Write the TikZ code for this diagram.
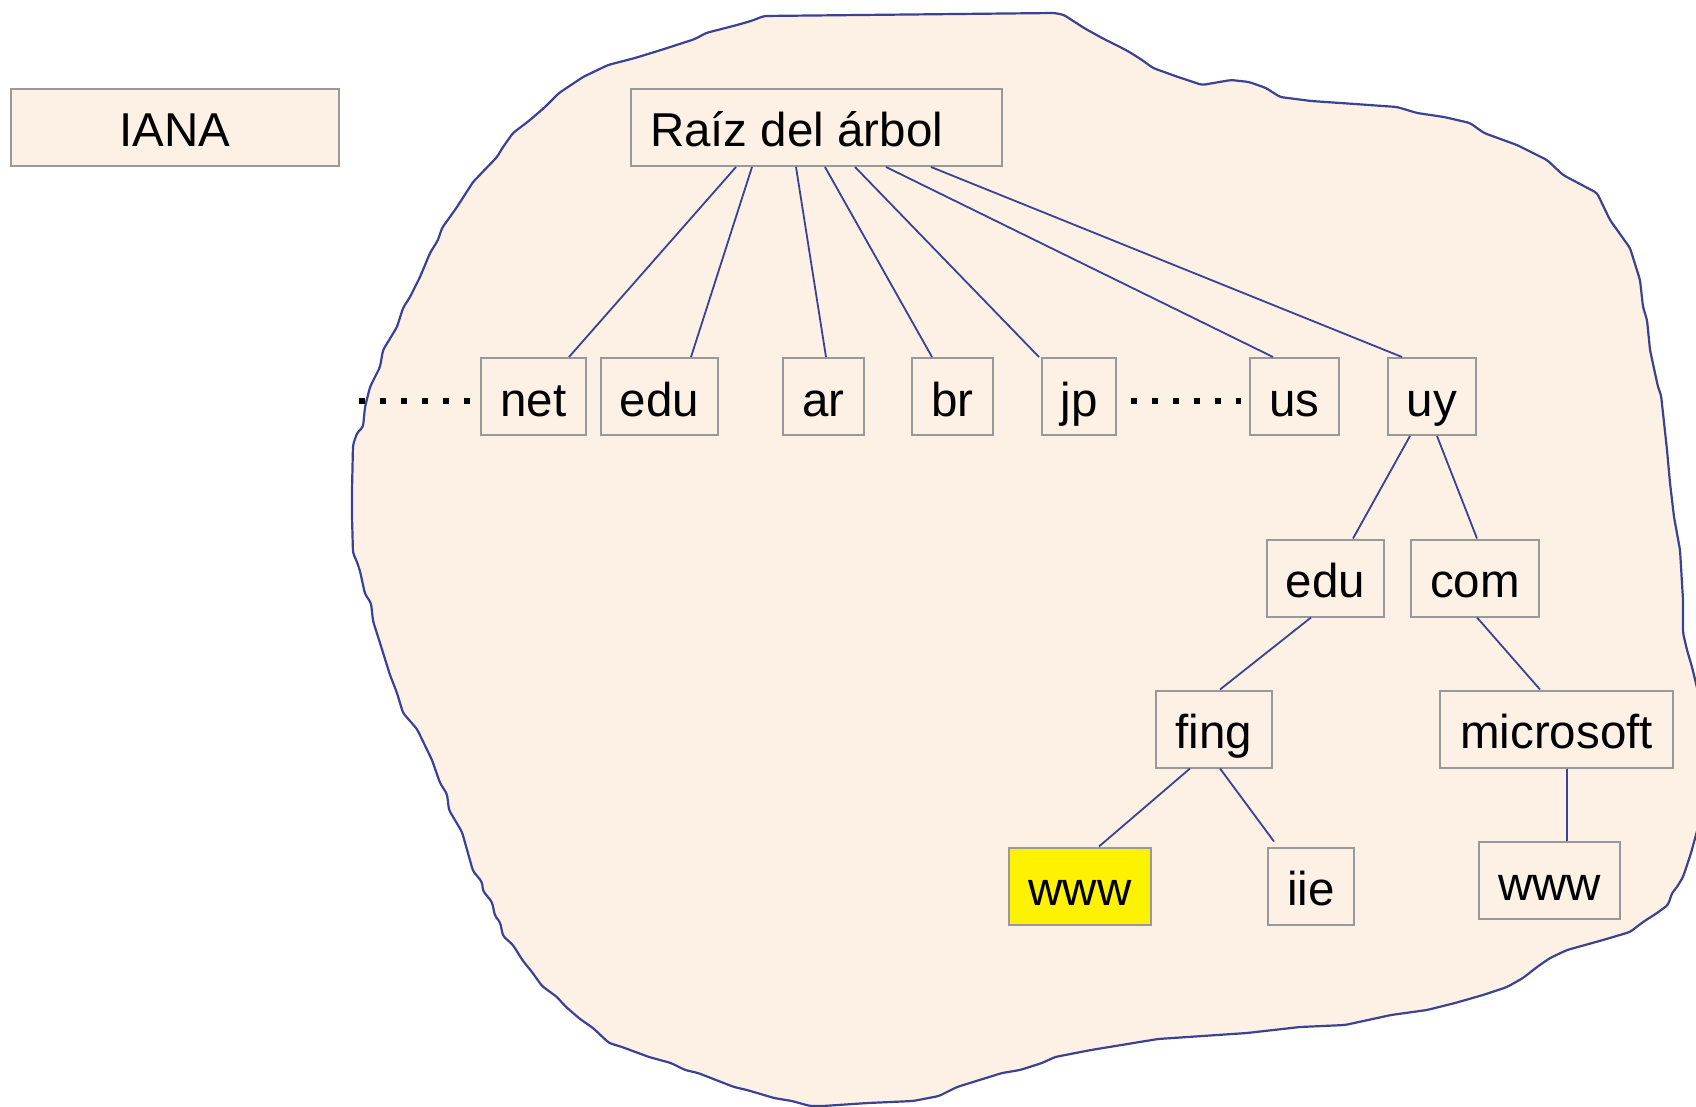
\documentclass[tikz,border=0pt]{standalone}
\usepackage{fontspec}
\setmainfont{Liberation Sans}
\definecolor{peach}{RGB}{253,240,228}
\definecolor{inkblue}{RGB}{58,66,148}
\definecolor{boxgray}{RGB}{153,153,153}
\begin{document}
\begin{tikzpicture}[x=1pt,y=-1pt,
  dnsbox/.style={draw=boxgray, line width=2pt, fill=peach, rectangle,
    inner xsep=0pt, inner ysep=0pt, minimum height=77pt,
    text height=39pt, text depth=0pt,
    font=\fontsize{47.5pt}{56pt}\selectfont},
  hilite/.style={dnsbox, fill=yellow},
  link/.style={draw=inkblue, line width=1.8pt},
  dotrow/.style={line width=6pt, dash pattern=on 6pt off 15pt},
  region/.style={draw=inkblue, line width=2.2pt, fill=peach,
    line join=round, rounded corners=3pt}]
\useasboundingbox (0,0) rectangle (1696,1107);

% zone managed below the root
\path[region] (764,16) -- (1055,13) -- (1064,15) -- (1084,28) -- (1102,38)
  -- (1122,48) -- (1131,53) -- (1142,60) -- (1153,68) -- (1178,77)
  -- (1202,85) -- (1231,80) -- (1249,82) -- (1266,88) -- (1280,97)
  -- (1311,101) -- (1355,104) -- (1397,107) -- (1417,113) -- (1444,117)
  -- (1470,123) -- (1484,133) -- (1517,145) -- (1533,153) -- (1547,160)
  -- (1563,175) -- (1597,193) -- (1610,220) -- (1630,248) -- (1640,280)
  -- (1643,307) -- (1647,320) -- (1650,350) -- (1658,387) -- (1661,395)
  -- (1667,450) -- (1670,483) -- (1674,517) -- (1680,550) -- (1683,600)
  -- (1683,633) -- (1687,650) -- (1692,667) -- (1700,700) -- (1700,820)
  -- (1691,853) -- (1683,877) -- (1677,887) -- (1672,893) -- (1668,905)
  -- (1657,913) -- (1643,922) -- (1630,932) -- (1603,940) -- (1567,950)
  -- (1550,958) -- (1537,967) -- (1523,978) -- (1507,987) -- (1483,995)
  -- (1455,1003) -- (1427,1010) -- (1391,1015) -- (1345,1025) -- (1300,1027)
  -- (1247,1033) -- (1158,1039) -- (1091,1050) -- (1055,1057) -- (1042,1063)
  -- (1020,1070) -- (1002,1073) -- (957,1087) -- (939,1096) -- (913,1101)
  -- (868,1103) -- (823,1106) -- (810,1106) -- (792,1101) -- (774,1098)
  -- (747,1090) -- (734,1087) -- (716,1080) -- (698,1073) -- (685,1070)
  -- (671,1063) -- (649,1057) -- (622,1047) -- (609,1043) -- (593,1028)
  -- (580,1019) -- (565,1006) -- (557,997) -- (542,986) -- (532,972)
  -- (523,961) -- (513,945) -- (503,936) -- (500,922) -- (495,916)
  -- (492,902) -- (483,891) -- (482,882) -- (473,871) -- (462,832)
  -- (449,810) -- (447,794) -- (440,783) -- (432,760) -- (417,729)
  -- (403,713) -- (397,693) -- (390,675) -- (380,643) -- (373,621)
  -- (371,603) -- (365,594) -- (360,571) -- (357,562) -- (353,553)
  -- (352,517) -- (352,490) -- (353,445) -- (357,433) -- (363,427)
  -- (365,407) -- (370,387) -- (380,367) -- (383,350) -- (397,327)
  -- (403,308) -- (410,297) -- (420,277) -- (430,253) -- (438,240)
  -- (442,228) -- (457,207) -- (473,182) -- (497,157) -- (503,147)
  -- (513,133) -- (530,120) -- (545,107) -- (559,93) -- (583,77)
  -- (608,65) -- (635,58) -- (661,50) -- (695,39) -- (706,33)
  -- (737,25) -- (751,21) -- cycle;

% boxes
\node[dnsbox, minimum width=328pt] (iana) at (175,127.5) {IANA};
\node[dnsbox, minimum width=371pt, inner xsep=19pt] (root) at (816.5,127.5)
  {\makebox[333pt][l]{Raíz del árbol}};
\node[dnsbox, minimum width=105pt] (net)  at (533.5,396.5) {net};
\node[dnsbox, minimum width=117pt] (edu)  at (659.5,396.5) {edu};
\node[dnsbox, minimum width=81pt]  (ar)   at (823.5,396.5) {ar};
\node[dnsbox, minimum width=81pt]  (br)   at (952.5,396.5) {br};
\node[dnsbox, minimum width=74pt]  (jp)   at (1079,396.5)  {jp};
\node[dnsbox, minimum width=89pt]  (us)   at (1294.5,396.5) {us};
\node[dnsbox, minimum width=88pt]  (uy)   at (1432,396.5)  {uy};
\node[dnsbox, minimum width=117pt] (eduuy) at (1325.5,578) {edu};
\node[dnsbox, minimum width=128pt] (com)  at (1475,578)    {com};
\node[dnsbox, minimum width=116pt] (fing) at (1214,729)    {fing};
\node[dnsbox, minimum width=233pt] (ms)   at (1556.5,729)  {microsoft};
\node[hilite, minimum width=142pt] (wwwf) at (1080,886)    {www};
\node[dnsbox, minimum width=86pt]  (iie)  at (1311,886)    {iie};
\node[dnsbox, minimum width=141pt] (wwwm) at (1549.5,880.5) {www};

% tree links
\draw[link] ([xshift=106pt]root.south west) -- ([xshift=89pt]net.north west);
\draw[link] ([xshift=122pt]root.south west) -- ([xshift=91pt]edu.north west);
\draw[link] ([xshift=166pt]root.south west) -- ([xshift=44pt]ar.north west);
\draw[link] ([xshift=195pt]root.south west) -- ([xshift=21pt]br.north west);
\draw[link] ([xshift=225pt]root.south west) -- ([xshift=-2pt]jp.north west);
\draw[link] ([xshift=256pt]root.south west) -- ([xshift=24pt]us.north west);
\draw[link] ([xshift=301pt]root.south west) -- ([xshift=15pt]uy.north west);
\draw[link] ([xshift=23pt]uy.south west) -- ([xshift=87pt]eduuy.north west);
\draw[link] ([xshift=50pt]uy.south west) -- ([xshift=67pt]com.north west);
\draw[link] ([xshift=45pt]eduuy.south west) -- ([xshift=65pt]fing.north west);
\draw[link] ([xshift=67pt]com.south west) -- ([xshift=101pt]ms.north west);
\draw[link] ([xshift=35pt]fing.south west) -- ([xshift=91pt]wwwf.north west);
\draw[link] ([xshift=65pt]fing.south west) -- ([xshift=7pt,yshift=5pt]iie.north west);
\draw[link] ([xshift=128pt]ms.south west) -- ([xshift=89pt]wwwm.north west);

% elided siblings
\draw[dotrow] ([xshift=-121pt,yshift=-4.5pt]net.west) -- ([xshift=-10pt,yshift=-4.5pt]net.west);
\draw[dotrow] ([xshift=14pt,yshift=-4.5pt]jp.east) -- ([xshift=-8pt,yshift=-4.5pt]us.west);
\end{tikzpicture}
\end{document}
